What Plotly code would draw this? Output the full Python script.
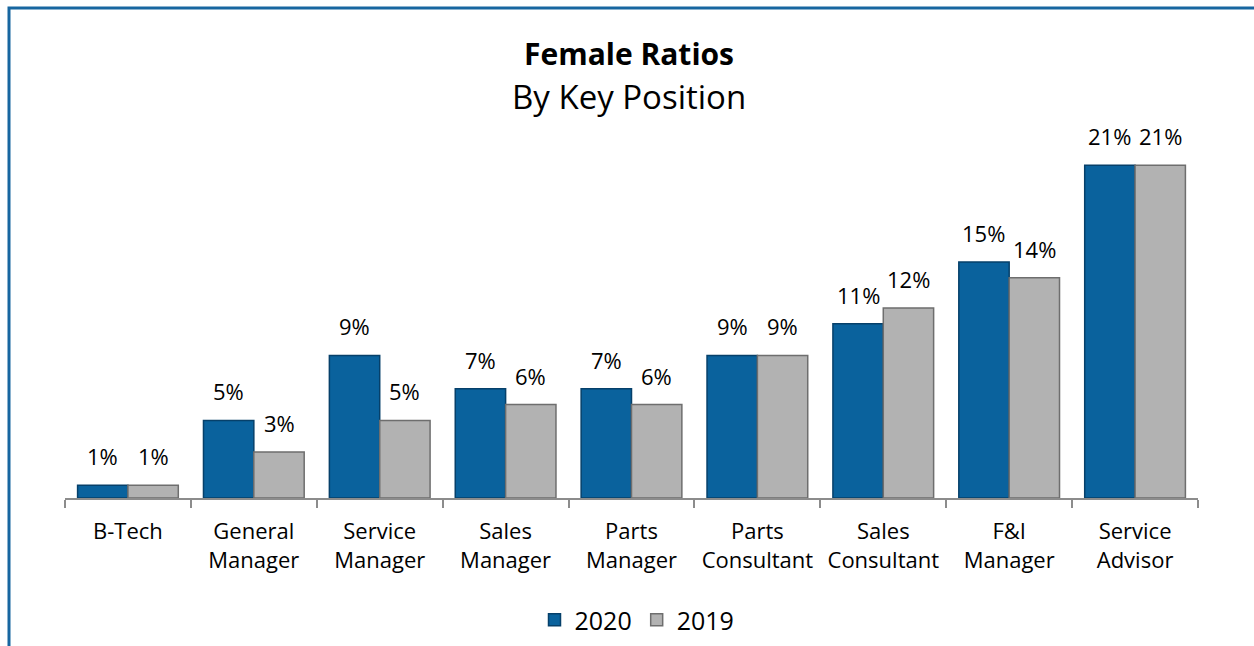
import plotly.graph_objects as go

categories = ["B-Tech", "General<br>Manager", "Service<br>Manager", "Sales<br>Manager",
              "Parts<br>Manager", "Parts<br>Consultant", "Sales<br>Consultant",
              "F&I<br>Manager", "Service<br>Advisor"]
values_2020 = [0.008, 0.049, 0.090, 0.069, 0.069, 0.090, 0.110, 0.149, 0.210]
values_2019 = [0.008, 0.029, 0.049, 0.059, 0.059, 0.090, 0.120, 0.139, 0.210]

W, H = 1254, 646
L, R, T, B = 65, 56, 102, 148
pw, ph = W - L - R, H - T - B

def px(x):  # page pixel -> paper
    return (x - L) / pw

def py(y):
    return (H - B - y) / ph

FONT = "'Open Sans', sans-serif"

fig = go.Figure()
fig.add_trace(go.Bar(
    name="2020", x=categories, y=values_2020,
    marker=dict(color="#0a629d", line=dict(color="#06406a", width=1.5)),
))
fig.add_trace(go.Bar(
    name="2019", x=categories, y=values_2019,
    marker=dict(color="#b2b2b2", line=dict(color="#6e6e6e", width=1.5)),
))

annotations = [
    dict(text="<b>Female Ratios</b>", xref="paper", yref="paper", x=px(629), y=py(53),
         showarrow=False, font=dict(size=30), xanchor="center", yanchor="middle"),
    dict(text="By Key Position", xref="paper", yref="paper", x=px(629), y=py(96),
         showarrow=False, font=dict(size=33), xanchor="center", yanchor="middle"),
]
for vals, shift in ((values_2020, -25.2), (values_2019, 25.2)):
    for c, v in zip(categories, vals):
        annotations.append(dict(
            x=c, y=v, xref="x", yref="y", text=f"{v:.0%}", showarrow=False,
            xshift=shift, yshift=12, yanchor="bottom", xanchor="center",
            font=dict(size=22, color="#000000")))

fig.update_layout(
    width=W, height=H,
    margin=dict(l=L, r=R, t=T, b=B, autoexpand=False),
    paper_bgcolor="white", plot_bgcolor="white",
    barmode="group", bargap=0.2, bargroupgap=0,
    font=dict(family=FONT, size=22, color="#000000"),
    showlegend=True,
    legend=dict(orientation="h", x=px(637), xanchor="center", y=py(620), yanchor="middle",
                font=dict(size=25), itemwidth=30, traceorder="normal"),
    xaxis=dict(showline=True, linecolor="#8c8c8c", linewidth=1.5,
               ticks="outside", tickson="boundaries", ticklen=8, tickcolor="#8c8c8c",
               tickwidth=1.5, tickfont=dict(size=22), tickangle=0,
               ticklabelstandoff=13, showgrid=False),
    yaxis=dict(range=[0, 0.25], visible=False, showgrid=False),
    shapes=[dict(type="rect", xref="paper", yref="paper",
                 x0=px(9), x1=px(1290), y0=py(700), y1=py(8),
                 line=dict(color="#1766a0", width=3), layer="below")],
    annotations=annotations,
)

fig.write_html("out.html", config={"displayModeBar": False},
               post_script="document.body.style.margin='0';document.body.style.overflow='hidden';")
